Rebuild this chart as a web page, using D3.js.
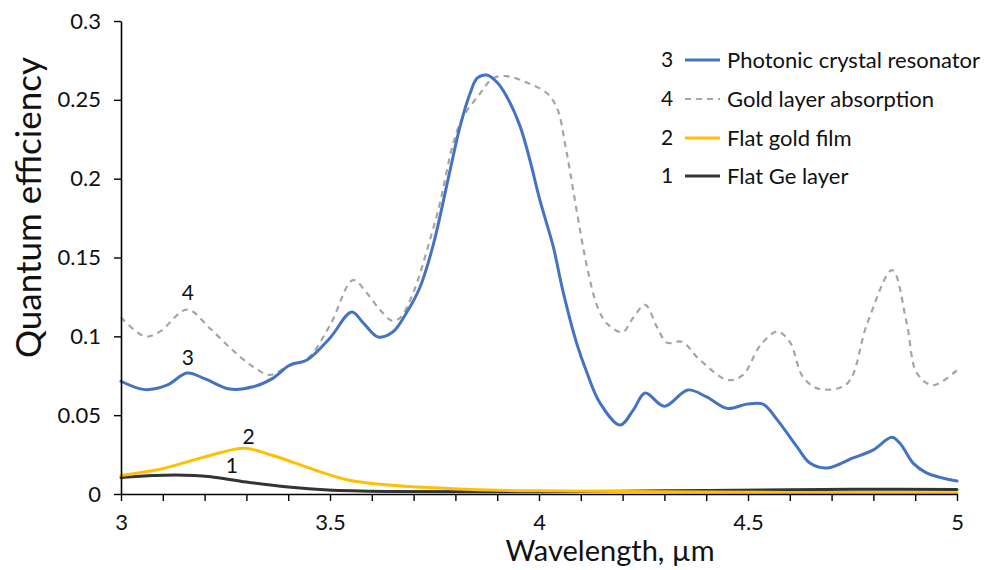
<!DOCTYPE html>
<html>
<head>
<meta charset="utf-8">
<script src="https://cdn.jsdelivr.net/npm/d3@7"></script>
<style>
  html, body { margin: 0; padding: 0; background: #fff; }
  svg { display: block; font-family: Lato, "Open Sans", sans-serif; }
</style>
</head>
<body>
<svg id="chart" width="984" height="570"></svg>
<script>
// ---- data ----
const xTickValues = [3, 3.5, 4, 4.5, 5];
const yTickValues = [0, 0.05, 0.1, 0.15, 0.2, 0.25, 0.3];
const yTickLabels = ["0", "0.05", "0.1", "0.15", "0.2", "0.25", "0.3"];

// 3 — Photonic crystal resonator
const resonatorWl = [3.000,3.057,3.110,3.158,3.200,3.260,3.316,3.364,3.404,3.445,3.500,3.552,3.580,3.615,3.650,3.684,3.715,3.746,3.787,3.811,3.835,3.852,3.875,3.900,3.923,3.955,3.978,4.002,4.034,4.057,4.090,4.115,4.146,4.194,4.225,4.254,4.300,4.356,4.400,4.450,4.497,4.536,4.570,4.617,4.648,4.690,4.750,4.800,4.844,4.864,4.895,4.928,5.000];
const resonatorQE = [0.0715,0.0662,0.0690,0.0767,0.0732,0.0666,0.0680,0.0735,0.0818,0.0850,0.0990,0.1154,0.1084,0.0996,0.1027,0.1154,0.1310,0.1570,0.2050,0.2330,0.2540,0.2637,0.2657,0.2610,0.2520,0.2330,0.2120,0.1865,0.1570,0.1290,0.0957,0.0767,0.0577,0.0437,0.0530,0.0640,0.0557,0.0660,0.0617,0.0543,0.0570,0.0570,0.0470,0.0300,0.0196,0.0165,0.0227,0.0280,0.0360,0.0320,0.0196,0.0133,0.0082];

// 4 — Gold layer absorption
const goldAbsWl = [3.000,3.057,3.093,3.158,3.213,3.268,3.316,3.356,3.397,3.445,3.500,3.555,3.588,3.620,3.648,3.667,3.699,3.739,3.763,3.795,3.818,3.859,3.890,3.923,3.970,4.020,4.045,4.062,4.074,4.090,4.115,4.140,4.163,4.200,4.225,4.254,4.282,4.306,4.342,4.385,4.452,4.488,4.530,4.570,4.600,4.632,4.672,4.737,4.785,4.845,4.880,4.904,4.943,5.000];
const goldAbsQE = [0.1120,0.1000,0.1030,0.1170,0.1050,0.0910,0.0807,0.0755,0.0807,0.0855,0.1070,0.1357,0.1275,0.1167,0.1100,0.1116,0.1275,0.1610,0.1845,0.2225,0.2390,0.2540,0.2637,0.2650,0.2610,0.2540,0.2435,0.2225,0.2050,0.1800,0.1440,0.1186,0.1080,0.1027,0.1116,0.1200,0.1060,0.0960,0.0965,0.0850,0.0723,0.0755,0.0945,0.1030,0.0965,0.0740,0.0666,0.0700,0.1080,0.1420,0.1080,0.0767,0.0690,0.0786];

// 2 — Flat gold film
const goldFilmWl = [3.000,3.096,3.200,3.295,3.360,3.450,3.543,3.640,3.760,3.880,4.000,4.300,4.600,5.000];
const goldFilmQE = [0.0118,0.0159,0.0235,0.0290,0.0247,0.0165,0.0089,0.0057,0.0038,0.0025,0.0020,0.0015,0.0010,0.0008];

// 1 — Flat Ge layer
const geWl = [3.000,3.080,3.175,3.215,3.300,3.400,3.495,3.640,4.000,4.300,4.600,4.750,5.000];
const geQE = [0.0105,0.0118,0.0118,0.0110,0.0076,0.0044,0.0025,0.0016,0.0015,0.0020,0.0027,0.0030,0.0028];

const seriesNames = ["Photonic crystal resonator", "Gold layer absorption", "Flat gold film", "Flat Ge layer"];
const seriesNumbers = ["3", "4", "2", "1"];

// ---- chart ----
const svg = d3.select("#chart");
const mLeft = 121, mRight = 957, mTop = 21, mBottom = 494;
const x = d3.scaleLinear().domain([3, 5]).range([mLeft, mRight]);
const y = d3.scaleLinear().domain([0, 0.3]).range([mBottom, mTop]);

const zip = (a, b) => a.map((v, i) => [v, b[i]]);
const series = [
  { name: seriesNames[0], num: seriesNumbers[0], data: zip(resonatorWl, resonatorQE), color: "#4472C4", width: 3, dash: null },
  { name: seriesNames[1], num: seriesNumbers[1], data: zip(goldAbsWl, goldAbsQE), color: "#A5A5A5", width: 2.2, dash: "6,5" },
  { name: seriesNames[2], num: seriesNumbers[2], data: zip(goldFilmWl, goldFilmQE), color: "#FFC000", width: 3, dash: null },
  { name: seriesNames[3], num: seriesNumbers[3], data: zip(geWl, geQE), color: "#333333", width: 3, dash: null }
];

const line = d3.line()
  .x(d => x(d[0]))
  .y(d => y(d[1]))
  .curve(d3.curveCatmullRom.alpha(0.5));

[3, 2, 1, 0].forEach(i => {
  const s = series[i];
  svg.append("path")
    .datum(s.data)
    .attr("fill", "none")
    .attr("stroke", s.color)
    .attr("stroke-width", s.width)
    .attr("stroke-dasharray", s.dash)
    .attr("stroke-linejoin", "round")
    .attr("stroke-linecap", s.dash ? "butt" : "round")
    .attr("d", line);
});

const labelFont = 22;

// axes
const xAxis = d3.axisBottom(x)
  .tickValues(d3.range(30, 51).map(v => v / 10))
  .tickSize(7)
  .tickSizeOuter(0)
  .tickFormat(d => xTickValues.some(t => Math.abs(t - d) < 1e-9) ? d3.format("~g")(d) : "");
const gx = svg.append("g").attr("transform", `translate(0,${mBottom})`).call(xAxis);
gx.select(".domain").attr("stroke", "#000").attr("stroke-width", 1.6);
gx.selectAll(".tick line").attr("stroke", "#000").attr("stroke-width", 1.4);
gx.selectAll(".tick text").attr("font-size", labelFont).attr("fill", "#111").attr("dy", "0.71em").attr("y", 20).style("font-family", "Lato, sans-serif");

const yAxis = d3.axisLeft(y)
  .tickValues(yTickValues)
  .tickSize(7)
  .tickSizeOuter(0)
  .tickFormat((d, i) => yTickLabels[i]);
const gy = svg.append("g").attr("transform", `translate(${mLeft},0)`).call(yAxis);
gy.select(".domain").attr("stroke", "#000").attr("stroke-width", 1.6);
gy.selectAll(".tick line").attr("stroke", "#000").attr("stroke-width", 1.4);
gy.selectAll(".tick text").attr("font-size", labelFont).attr("fill", "#111").attr("x", -20).style("font-family", "Lato, sans-serif");

// axis titles
svg.append("text")
  .attr("transform", `translate(41,${(mTop + mBottom) / 2 - 50}) rotate(-90)`)
  .attr("text-anchor", "middle")
  .attr("font-size", 35)
  .attr("fill", "#111")
  .text("Quantum efficiency");
svg.append("text")
  .attr("x", (mLeft + mRight) / 2 + 71)
  .attr("y", 561)
  .attr("text-anchor", "middle")
  .attr("font-size", 29)
  .attr("fill", "#111")
  .text("Wavelength, µm");

// curve number labels
const curveLabels = [
  { t: "4", wl: 3.16, qe: 0.123 },
  { t: "3", wl: 3.16, qe: 0.082 },
  { t: "2", wl: 3.305, qe: 0.0318 },
  { t: "1", wl: 3.265, qe: 0.0132 }
];
svg.selectAll("text.curvelabel").data(curveLabels).join("text")
  .attr("class", "curvelabel")
  .attr("x", d => x(d.wl))
  .attr("y", d => y(d.qe))
  .attr("text-anchor", "middle")
  .attr("font-size", 21)
  .attr("fill", "#111")
  .text(d => d.t);

// legend
const legend = svg.append("g");
const rowY = [60, 99, 138, 176];
series.forEach((s, i) => {
  const g = legend.append("g").attr("transform", `translate(0,${rowY[i]})`);
  g.append("text").attr("x", 667).attr("y", 0).attr("dy", "0.35em")
    .attr("text-anchor", "middle").attr("font-size", 21).attr("fill", "#111").text(s.num);
  g.append("line").attr("x1", 685).attr("x2", 720).attr("y1", 0).attr("y2", 0)
    .attr("stroke", s.color).attr("stroke-width", s.width)
    .attr("stroke-dasharray", s.dash);
  g.append("text").attr("x", 727).attr("y", 0).attr("dy", "0.35em")
    .attr("font-size", 22).attr("fill", "#111").text(s.name);
});
</script>
</body>
</html>
